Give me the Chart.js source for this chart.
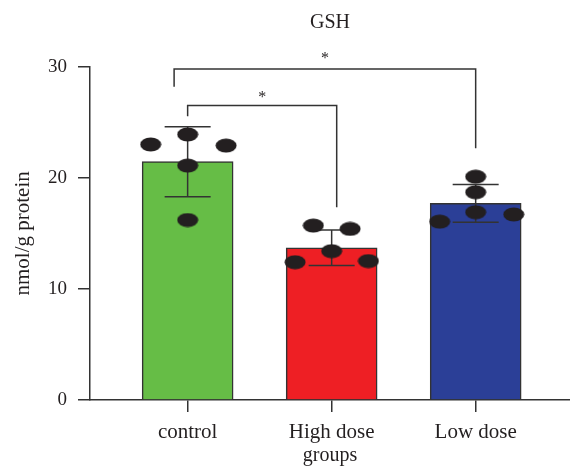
<!DOCTYPE html>
<html>
<head>
<meta charset="utf-8">
<script src="https://cdn.jsdelivr.net/npm/chart.js@4.4.0/dist/chart.umd.min.js"></script>
<style>
    html, body { margin: 0; padding: 0; background: #fff; }
    #wrap { width: 570px; height: 468px; }
</style>
</head>
<body>
<div id="wrap"><canvas id="chart"></canvas></div>
<script>
'use strict';

// Values
const categories = ['control', 'High dose', 'Low dose'];
const meanValues = [21.45, 13.7, 17.7];
const sdValues = [3.15, 1.6, 1.7];
const controlPoints = [23.0, 23.9, 22.9, 21.1, 16.2];
const highDosePoints = [15.7, 15.4, 13.4, 12.4, 12.5];
const lowDosePoints = [20.1, 18.7, 16.9, 16.05, 16.7];
const yTicks = [0, 10, 20, 30];

// Significance comparisons (group index pairs) and their marks
const comparisons = [[0, 2], [0, 1]];
const comparisonLabels = ['*', '*'];

// Horizontal spread of the dots inside each group (in category units)
const controlJitter = [-0.257, 0, 0.267, 0, 0];
const highDoseJitter = [-0.127, 0.128, 0, -0.254, 0.255];
const lowDoseJitter = [0, 0, 0, -0.25, 0.264];

// Bracket placement (value units): bar level, leg ends, x nudges, star gap in px
const bracketLayout = [
    { level: 29.8, leftEnd: 28.2, rightEnd: 22.65, dx0: -0.094, dx1: 0.0, starGap: 14 },
    { level: 26.5, leftEnd: 25.55, rightEnd: 17.35, dx0: 0.0, dx1: 0.035, starGap: 11.5 }
];

const barColors = ['#66bd46', '#ee1f24', '#2b3f97'];
const inkColor = '#231f20';
const lineColor = '#333333';
const serif = "'Liberation Serif', 'DejaVu Serif', serif";

// Ellipse dot used as point style
function makeDot() {
    let c = document.createElement('canvas');
    c.width = 22;
    c.height = 15;
    let g = c.getContext('2d');
    g.fillStyle = inkColor;
    g.beginPath();
    g.ellipse(11, 7.5, 10.5, 7, 0, 0, Math.PI * 2);
    g.fill();
    return c;
}
const dot = makeDot();

function groupPoints(values, jitter, groupIndex) {
    return values.map((v, i) => ({ x: groupIndex + jitter[i], y: v }));
}

// Error bars, drawn right after the bars so the dots cover them
const errorBarPlugin = {
    id: 'errorBars',
    afterDatasetDraw(chart, args) {
        if (args.index !== 3) return;
        let ctx = chart.ctx;
        let xs = chart.scales.x;
        let ys = chart.scales.y;
        ctx.save();
        ctx.strokeStyle = lineColor;
        ctx.lineWidth = 1.5;
        for (let i = 0; i < meanValues.length; i++) {
            let x = xs.getPixelForValue(i);
            let top = ys.getPixelForValue(meanValues[i] + sdValues[i]);
            let bot = ys.getPixelForValue(meanValues[i] - sdValues[i]);
            ctx.beginPath();
            ctx.moveTo(x, top);
            ctx.lineTo(x, bot);
            ctx.moveTo(x - 23, top);
            ctx.lineTo(x + 23, top);
            ctx.moveTo(x - 23, bot);
            ctx.lineTo(x + 23, bot);
            ctx.stroke();
        }
        ctx.restore();
    }
};

// Significance brackets with stars
const bracketPlugin = {
    id: 'brackets',
    afterDraw(chart) {
        let ctx = chart.ctx;
        let xs = chart.scales.x;
        let ys = chart.scales.y;
        ctx.save();
        ctx.strokeStyle = lineColor;
        ctx.lineWidth = 1.5;
        ctx.fillStyle = inkColor;
        ctx.font = '16px ' + serif;
        ctx.textAlign = 'center';
        ctx.textBaseline = 'alphabetic';
        comparisons.forEach((pair, k) => {
            let lay = bracketLayout[k];
            let x0 = xs.getPixelForValue(pair[0] + lay.dx0);
            let x1 = xs.getPixelForValue(pair[1] + lay.dx1);
            let y = ys.getPixelForValue(lay.level);
            ctx.beginPath();
            ctx.moveTo(x0, ys.getPixelForValue(lay.leftEnd));
            ctx.lineTo(x0, y);
            ctx.lineTo(x1, y);
            ctx.lineTo(x1, ys.getPixelForValue(lay.rightEnd));
            ctx.stroke();
            ctx.fillText(comparisonLabels[k], (x0 + x1) / 2, y - lay.starGap + 8);
        });
        ctx.restore();
    }
};

let ctx = document.getElementById('chart').getContext('2d');
let chart = new Chart(ctx, {
    data: {
        datasets: [
            {
                type: 'scatter',
                data: groupPoints(controlPoints, controlJitter, 0),
                pointStyle: dot,
                order: 1
            },
            {
                type: 'scatter',
                data: groupPoints(highDosePoints, highDoseJitter, 1),
                pointStyle: dot,
                order: 1
            },
            {
                type: 'scatter',
                data: groupPoints(lowDosePoints, lowDoseJitter, 2),
                pointStyle: dot,
                order: 1
            },
            {
                type: 'bar',
                data: meanValues.map((v, i) => ({ x: i, y: v })),
                backgroundColor: barColors,
                borderColor: lineColor,
                borderWidth: 1.5,
                barThickness: 91,
                order: 2
            }
        ]
    },
    options: {
        responsive: true,
        maintainAspectRatio: false,
        animation: false,
        layout: { padding: 0, autoPadding: false },
        plugins: {
            legend: { display: false },
            tooltip: { enabled: false },
            title: {
                display: true,
                text: 'GSH',
                fullSize: false,
                color: inkColor,
                font: { family: serif, size: 20, weight: 'normal' },
                padding: { top: 11, bottom: 31.7 }
            }
        },
        scales: {
            x: {
                type: 'linear',
                offset: false,
                min: -0.678,
                max: 2.655,
                afterFit: (scale) => {
                    scale.height = 68;
                    scale.paddingLeft = 0;
                    scale.paddingRight = 0;
                },
                afterBuildTicks: (scale) => {
                    scale.ticks = categories.map((c, i) => ({ value: i }));
                },
                ticks: {
                    callback: (v) => categories[v],
                    color: inkColor,
                    font: { family: serif, size: 21 },
                    padding: 8,
                    maxRotation: 0
                },
                grid: {
                    offset: false,
                    drawOnChartArea: false,
                    drawTicks: true,
                    tickLength: 12,
                    color: lineColor,
                    lineWidth: 1.5
                },
                border: { display: true, color: lineColor, width: 1.5 },
                title: {
                    display: true,
                    text: 'groups',
                    color: inkColor,
                    font: { family: serif, size: 20 },
                    padding: { top: 0, bottom: 0 }
                }
            },
            y: {
                min: 0,
                max: 30,
                afterFit: (scale) => { scale.width = 90; },
                afterBuildTicks: (scale) => {
                    scale.ticks = yTicks.map((v) => ({ value: v }));
                },
                ticks: {
                    color: inkColor,
                    font: { family: serif, size: 19 },
                    padding: 11
                },
                grid: {
                    drawOnChartArea: false,
                    drawTicks: true,
                    tickLength: 12,
                    color: lineColor,
                    lineWidth: 1.5
                },
                border: { display: true, color: lineColor, width: 1.5 },
                title: {
                    display: true,
                    text: 'nmol/g protein',
                    color: inkColor,
                    font: { family: serif, size: 21 },
                    padding: { top: 10.4, bottom: 0 }
                }
            }
        }
    },
    plugins: [errorBarPlugin, bracketPlugin]
});
</script>
</body>
</html>
